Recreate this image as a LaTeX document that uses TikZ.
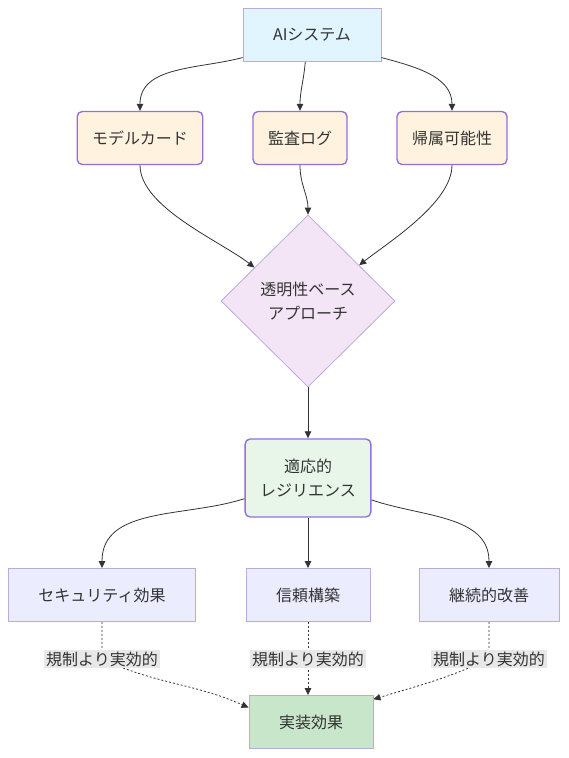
\documentclass[tikz,border=0pt]{standalone}
\usepackage{fontspec}
\setmainfont{Noto Sans CJK JP}
\usetikzlibrary{arrows.meta,shapes.geometric,backgrounds}
\definecolor{ink}{HTML}{333333}
\definecolor{skyfill}{HTML}{E1F5FE}
\definecolor{creamfill}{HTML}{FFF3E0}
\definecolor{lilacfill}{HTML}{F3E5F5}
\definecolor{mintfill}{HTML}{E8F5E9}
\definecolor{lavfill}{HTML}{ECECFF}
\definecolor{greenfill}{HTML}{C8E6C9}
\definecolor{deeppurple}{HTML}{9370DB}
\definecolor{palepurple}{HTML}{BBAADF}
\definecolor{tagfill}{HTML}{E8E8E8}
\begin{document}
\begin{tikzpicture}[x=1pt,y=1pt,>={Triangle[length=7pt,width=6.5pt]},
  every node/.style={font=\fontsize{16}{24}\selectfont,text=ink},
  plain/.style={draw=palepurple,line width=.9pt,minimum height=53pt,inner xsep=30pt},
  soft/.style={draw=deeppurple,line width=1.4pt,rounded corners=5pt,minimum height=53pt,inner xsep=15pt,align=center},
  link/.style={draw=ink,line width=.8pt,->},
  hint/.style={dash pattern=on 2pt off 2pt},
  tag/.style={fill=tagfill,inner sep=2pt}]
\useasboundingbox (0,0) rectangle (568,-758);
\node[plain,fill=skyfill] (ai) at (312,-35) {AIシステム};
\node[soft,fill=creamfill] (card) at (140,-138) {モデルカード};
\node[soft,fill=creamfill] (audit) at (300,-138) {監査ログ};
\node[soft,fill=creamfill] (attr) at (452,-138) {帰属可能性};
\node[diamond,draw=palepurple,fill=lilacfill,line width=.8pt,minimum width=174pt,minimum height=172pt,inner sep=0pt,align=center] (basis) at (308,-301) {透明性ベース\\アプローチ};
\node[soft,fill=mintfill,minimum height=78pt] (resil) at (308,-478) {適応的\\レジリエンス};
\node[plain,fill=lavfill] (sec) at (102,-595) {セキュリティ効果};
\node[plain,fill=lavfill] (trust) at (308,-595) {信頼構築};
\node[plain,fill=lavfill] (kaizen) at (489,-595) {継続的改善};
\node[plain,fill=greenfill] (impl) at (311,-722) {実装効果};
\node[tag] (t1) at (102,-659) {規制より実効的};
\node[tag] (t2) at (308,-659) {規制より実効的};
\node[tag] (t3) at (489,-659) {規制より実効的};
\draw[link] (ai.198) to[out=195,in=90] (card.north);
\draw[link] (ai.256) to[out=265,in=90] (audit.north);
\draw[link] (ai.-18) to[out=-15,in=90] (attr.north);
\draw[link] (card.south) to[out=-90,in=142,looseness=.7] (basis.148);
\draw[link] (audit.south) to[out=-90,in=90] (basis.north);
\draw[link] (attr.south) to[out=-90,in=38,looseness=.7] (basis.35);
\draw[link] (basis.south) -- (resil.north);
\draw[link] (resil.198) to[out=198,in=90] (sec.north);
\draw[link] (resil.south) -- (trust.north);
\draw[link] (resil.-19) to[out=-19,in=90] (kaizen.north);
\begin{scope}[on background layer]
\draw[link,hint] (sec.south) -- (t1.center) to[out=-25,in=156] (impl.167);
\draw[link,hint] (trust.south) -- (t2.center) -- (t2.center |- impl.north);
\draw[link,hint] (kaizen.south) -- (t3.center) to[out=205,in=17] (impl.20);
\end{scope}
\end{tikzpicture}
\end{document}
